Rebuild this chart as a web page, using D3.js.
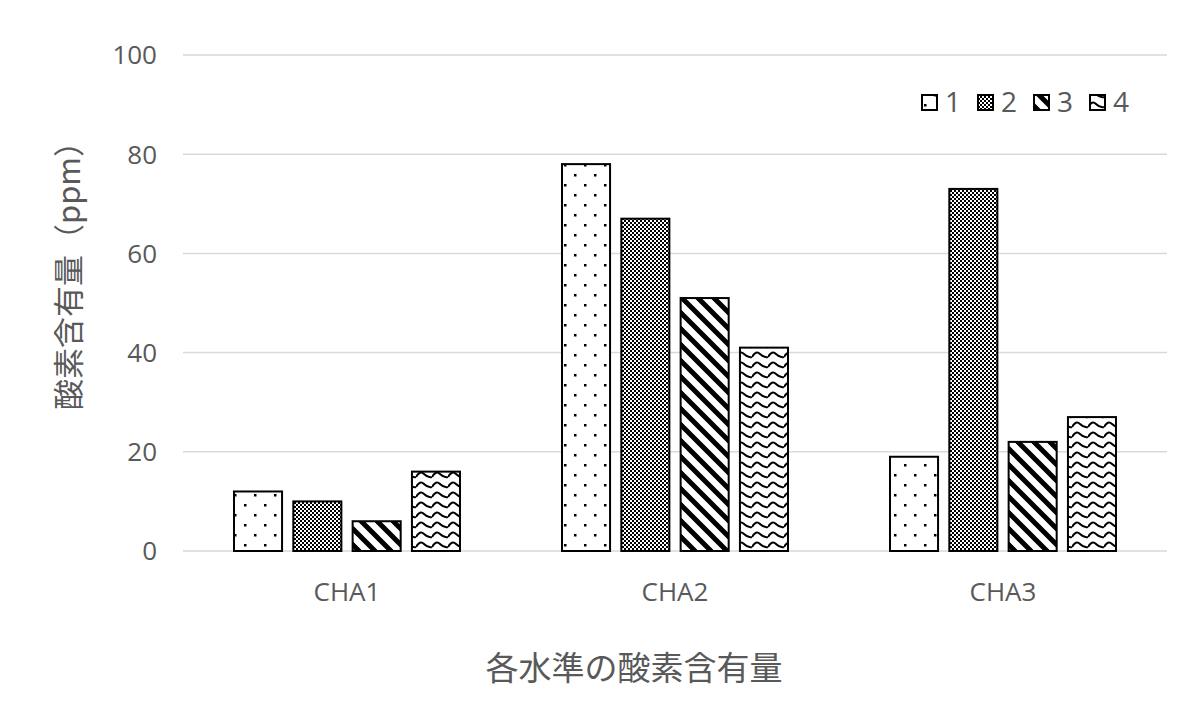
<!DOCTYPE html>
<html><head><meta charset="utf-8">
<script src="https://cdn.jsdelivr.net/npm/d3@7"></script>
<style>body{margin:0;background:#fff}</style>
</head><body>
<svg id="c" width="1200" height="723"></svg>
<script>
const categories = ["CHA1","CHA2","CHA3"];
const seriesNames = ["1","2","3","4"];
const series1 = [12,78,19];
const series2 = [10,67,73];
const series3 = [6,51,22];
const series4 = [16,41,27];
const yTicks = [0,20,40,60,80,100];
const allSeries = [series1,series2,series3,series4];

const svg = d3.select("#c");
const W=1200,H=723;
const m={l:183,r:33,t:55,b:172};
const x0 = d3.scaleBand().domain(categories).range([m.l,W-m.r]).paddingInner(0).paddingOuter(0);
const x1 = d3.scaleBand().domain(seriesNames).range([0,x0.bandwidth()]).paddingInner(0.19).paddingOuter(0.86);
const y = d3.scaleLinear().domain([0,100]).range([H-m.b,m.t]);

const defs = svg.append("defs");
// pattern 1: dots
let p = defs.append("pattern").attr("id","p1").attr("patternUnits","userSpaceOnUse").attr("width",20).attr("height",20);
p.append("rect").attr("width",20).attr("height",20).attr("fill","#fff");
p.append("rect").attr("x",4).attr("y",4).attr("width",2.5).attr("height",2.5).attr("fill","#000");
p.append("rect").attr("x",14).attr("y",14).attr("width",2.5).attr("height",2.5).attr("fill","#000");
// pattern 2: checker
p = defs.append("pattern").attr("id","p2").attr("patternUnits","userSpaceOnUse").attr("width",4).attr("height",4);
p.append("rect").attr("width",4).attr("height",4).attr("fill","#fff");
p.append("rect").attr("width",2).attr("height",2).attr("fill","#000");
p.append("rect").attr("x",2).attr("y",2).attr("width",2).attr("height",2).attr("fill","#000");
// pattern 3: diagonal stripes "\"
p = defs.append("pattern").attr("id","p3").attr("patternUnits","userSpaceOnUse").attr("width",16).attr("height",16);
p.append("rect").attr("width",16).attr("height",16).attr("fill","#fff");
p.append("path").attr("d","M-4,-4L20,20M-4,12L4,20M12,-4L20,4").attr("stroke","#000").attr("stroke-width",5);
// pattern 4: waves
p = defs.append("pattern").attr("id","p4").attr("patternUnits","userSpaceOnUse").attr("width",16).attr("height",10);
p.append("rect").attr("width",16).attr("height",10).attr("fill","#fff");
p.append("path").attr("d","M0,7 Q4,0 8,4 T16,7").attr("fill","none").attr("stroke","#000").attr("stroke-width",2);

// gridlines
svg.append("g").selectAll("line").data(yTicks).join("line")
  .attr("x1",m.l).attr("x2",W-m.r).attr("y1",d=>y(d)).attr("y2",d=>y(d))
  .attr("stroke","#d9d9d9").attr("stroke-width",1.5);

const latin = "'Open Sans','Noto Sans',sans-serif";
const cjk = "'Noto Sans CJK JP',sans-serif";

// y tick labels
svg.append("g").selectAll("text").data(yTicks).join("text")
  .attr("x",157).attr("y",d=>y(d)).attr("dy","0.36em").attr("text-anchor","end")
  .attr("font-family",latin).attr("font-size",26).attr("fill","#595959")
  .text(d=>d);

// bars
const g = svg.append("g");
categories.forEach((c,ci)=>{
  seriesNames.forEach((s,si)=>{
    const v = allSeries[si][ci];
    g.append("rect")
      .attr("x",x0(c)+x1(s)).attr("width",x1.bandwidth())
      .attr("y",y(v)).attr("height",y(0)-y(v))
      .attr("fill",`url(#p${si+1})`).attr("stroke","#000").attr("stroke-width",2);
  });
});

// category labels
svg.append("g").selectAll("text").data(categories).join("text")
  .attr("x",d=>x0(d)+x0.bandwidth()/2).attr("y",592).attr("dy","0.36em").attr("text-anchor","middle")
  .attr("font-family",latin).attr("font-size",26).attr("fill","#595959")
  .text(d=>d);

// x title
svg.append("text").attr("x",634).attr("y",668).attr("dy","0.36em").attr("text-anchor","middle")
  .attr("font-family",cjk).attr("font-size",33).attr("fill","#595959")
  .text("各水準の酸素含有量");

// y title
svg.append("text").attr("transform","translate(69,268) rotate(-90)").attr("dy","0.36em").attr("text-anchor","middle")
  .attr("font-family",cjk).attr("font-size",31).attr("fill","#595959")
  .text("酸素含有量（ppm）");

// legend
const legX = [922,978,1034,1090];
const leg = svg.append("g");
seriesNames.forEach((s,i)=>{
  leg.append("rect").attr("x",legX[i]).attr("y",95).attr("width",15).attr("height",15)
    .attr("fill",`url(#p${i+1})`).attr("stroke","#000").attr("stroke-width",2);
  leg.append("text").attr("x",legX[i]+23).attr("y",102).attr("dy","0.36em")
    .attr("font-family",latin).attr("font-size",28).attr("fill","#595959")
    .text(s);
});
</script>
</body></html>
